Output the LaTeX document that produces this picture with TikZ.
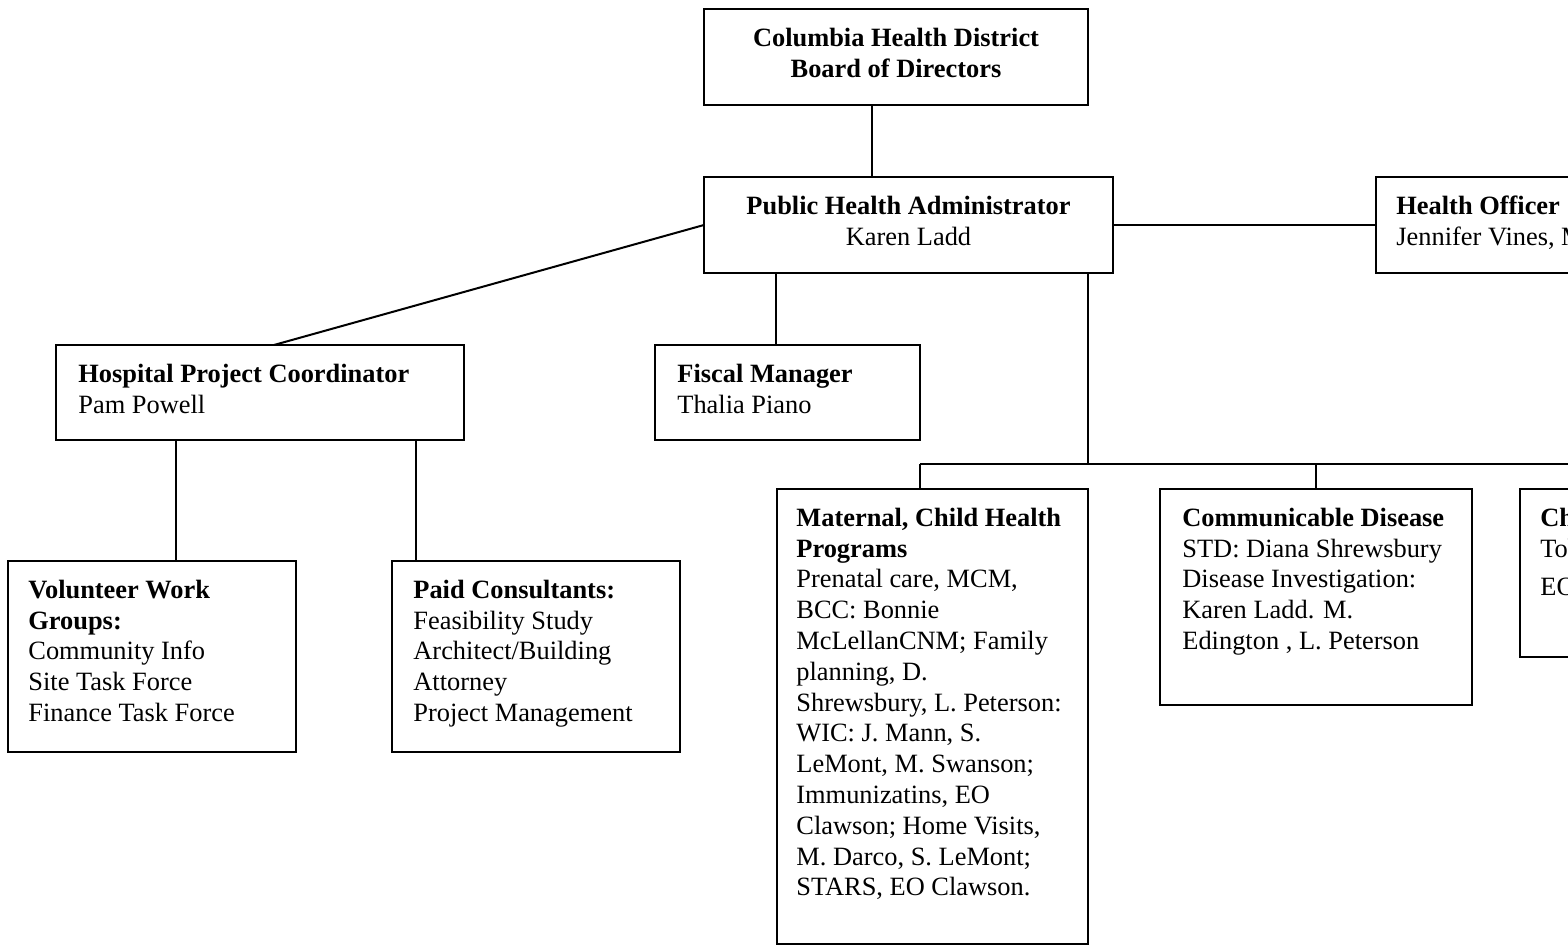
\documentclass[tikz,border=0pt]{standalone}
\usepackage{fontspec}
\setmainfont{Liberation Serif}
\usepackage{tikz}

\tikzset{
	box/.style={draw,line width=1pt,rectangle,anchor=north west,inner sep=0pt,outer sep=0pt},
	txt/.style={anchor=north west,align=left,inner sep=0pt,font=\fontsize{13.2}{15.4}\selectfont,
		execute at begin node=\strut},
	link/.style={line width=1pt}
}

\begin{document}
\begin{tikzpicture}[x=0.5pt,y=-0.5pt]
	\useasboundingbox (0,0) rectangle (1568,945);
	\clip (0,0) rectangle (1568,945);

%boxes
	\node[box,minimum width=192pt,minimum height=48pt] (board) at (704,9) {};
	\node[box,minimum width=204.5pt,minimum height=48pt] (pha) at (704,177) {};
	\node[box,minimum width=165pt,minimum height=48pt] (ho) at (1376,177) {};
	\node[box,minimum width=204pt,minimum height=47.5pt] (hpc) at (56,345) {};
	\node[box,minimum width=132.5pt,minimum height=47.5pt] (fiscal) at (655,345) {};
	\node[box,minimum width=144pt,minimum height=95.5pt] (vol) at (8,561) {};
	\node[box,minimum width=144pt,minimum height=95.5pt] (paid) at (392,561) {};
	\node[box,minimum width=155.5pt,minimum height=227.5pt] (mch) at (777,489) {};
	\node[box,minimum width=156pt,minimum height=108pt] (cd) at (1160,489) {};
	\node[box,minimum width=156pt,minimum height=84pt] (chr) at (1520,489) {};

%texts
	\node[txt,align=center,anchor=north] (boardt) at ([yshift=-9.3pt]board.north)
		{\textbf{Columbia Health District}\\\textbf{Board of Directors}};
	\node[txt,align=center,anchor=north] (phat) at ([yshift=-9.3pt]pha.north)
		{\textbf{Public Health Administrator}\\Karen Ladd};
	\node[txt] (hot) at ([shift={(10pt,-9.3pt)}]ho.north west)
		{\textbf{Health Officer}\\Jennifer Vines, MD};
	\node[txt] (hpct) at ([shift={(11pt,-9.3pt)}]hpc.north west)
		{\textbf{Hospital Project Coordinator}\\Pam Powell};
	\node[txt] (fiscalt) at ([shift={(11pt,-9.3pt)}]fiscal.north west)
		{\textbf{Fiscal Manager}\\Thalia Piano};
	\node[txt] (volt) at ([shift={(10pt,-9.3pt)}]vol.north west)
		{\textbf{Volunteer Work}\\\textbf{Groups:}\\Community Info\\Site Task Force\\Finance Task Force};
	\node[txt] (paidt) at ([shift={(10.5pt,-9.3pt)}]paid.north west)
		{\textbf{Paid Consultants:}\\Feasibility Study\\Architect/Building\\Attorney\\Project Management};
	\node[txt] (mcht) at ([shift={(9.5pt,-9.3pt)}]mch.north west)
		{\textbf{Maternal, Child Health}\\\textbf{Programs}\\Prenatal care, MCM,\\BCC: Bonnie\\McLellanCNM; Family\\planning, D.\\Shrewsbury, L. Peterson:\\WIC: J. Mann, S.\\LeMont, M. Swanson;\\Immunizatins, EO\\Clawson; Home Visits,\\M. Darco, S. LeMont;\\STARS, EO Clawson.};
	\node[txt] (cdt) at ([shift={(11pt,-9.3pt)}]cd.north west)
		{\textbf{Communicable Disease}\\STD: Diana Shrewsbury\\Disease Investigation:\\Karen Ladd. M.\\Edington , L. Peterson};
	\node[txt] (chrt) at ([shift={(10pt,-9.3pt)}]chr.north west)
		{\textbf{Chronic Disease}\\Tobacco\\[4pt]EO Clawson};

%connectors
	\draw[link] ([xshift=-12pt]board.south) -- ([xshift=-12pt]board.south |- pha.north);
	\draw[link] (pha.west) -- ([xshift=7pt]hpc.north);
	\draw[link] (pha.east) -- (pha.east -| ho.west);
	\draw[link] ([xshift=36pt]pha.south west) -- ([xshift=36pt]pha.south west |- fiscal.north);
	%bus to programs
	\coordinate (busL) at (920,464);
	\coordinate (busR) at (1676,464);
	\draw[link] (pha.south -| mch.north east) -- (mch.north east |- busL);
	\draw[link] (busL) -- (busR);
	\draw[link] (busL) -- (busL |- mch.north);
	\draw[link] (busL -| cd.north) -- (cd.north);
	\draw[link] (busR) -- (busR |- chr.north);
	%hospital project
	\draw[link] ([xshift=12pt]vol.north) -- ([xshift=12pt]vol.north |- hpc.south);
	\draw[link] ([xshift=-60pt]paid.north) -- ([xshift=-60pt]paid.north |- hpc.south);
\end{tikzpicture}
\end{document}
